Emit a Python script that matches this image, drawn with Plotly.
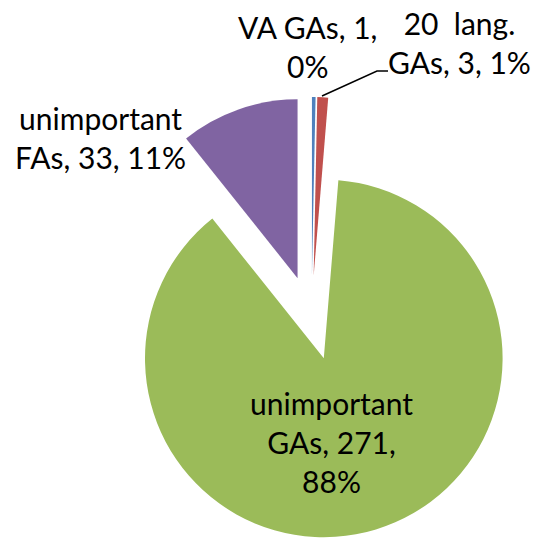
import plotly.graph_objects as go

# Slice data
labels = ["VA GAs", "20  lang. GAs", "unimportant GAs", "unimportant FAs"]
values = [1, 3, 271, 33]
colors = ["#4F81BD", "#C0504D", "#9BBB59", "#8064A2"]

# Data-label text (category, value, percentage) split over lines
label_lines = [
    "VA GAs, 1,<br>0%",
    "20  lang.<br>GAs, 3, 1%",
    "unimportant<br>GAs, 271,<br>88%",
    "unimportant<br>FAs, 33, 11%",
]

W, H = 533, 539

fig = go.Figure(
    go.Pie(
        labels=labels,
        values=values,
        marker=dict(colors=colors, line=dict(width=0)),
        sort=False,
        direction="clockwise",
        rotation=0,
        pull=[0.236] * len(values),
        textinfo="none",
        hoverinfo="label+value+percent",
        showlegend=False,
        domain=dict(x=[90 / W, 1.0], y=[0.0, 442 / H]),
    )
)

# Label anchor positions (pixels from the top-left corner)
label_pos = [(307, 46), (459, 43), (331, 442), (100, 137)]
annotations = []
for txt, (px, py) in zip(label_lines, label_pos):
    annotations.append(
        dict(
            text=txt,
            x=px / W,
            y=1 - py / H,
            xref="paper",
            yref="paper",
            xanchor="center",
            yanchor="middle",
            align="center",
            showarrow=False,
            font=dict(family="Lato", size=30, color="black"),
        )
    )

# Leader line for the small red slice label
shapes = [
    dict(
        type="path",
        xref="paper",
        yref="paper",
        path="M {:.4f},{:.4f} L {:.4f},{:.4f} L {:.4f},{:.4f}".format(
            322 / W, 1 - 96 / H, 377 / W, 1 - 71 / H, 388 / W, 1 - 71 / H
        ),
        line=dict(color="black", width=1.5),
    )
]

fig.update_layout(
    width=W,
    height=H,
    margin=dict(l=0, r=0, t=0, b=0),
    paper_bgcolor="white",
    plot_bgcolor="white",
    annotations=annotations,
    shapes=shapes,
)

fig.write_html("out.html")
